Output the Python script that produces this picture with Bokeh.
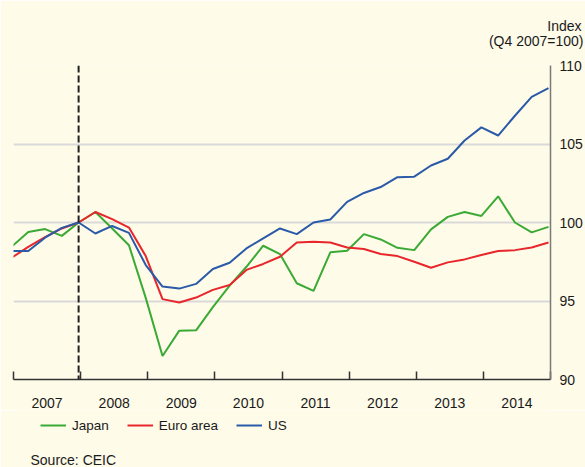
from bokeh.plotting import figure
from bokeh.layouts import column
from bokeh.models import (Range1d, LinearAxis, FixedTicker, Span, Legend,
                          LegendItem, Title, Grid, Label)
from bokeh.embed import file_html
from bokeh.resources import INLINE

# ---- data -------------------------------------------------------------
quarters = ["2006 Q4",
            "2007 Q1", "2007 Q2", "2007 Q3", "2007 Q4",
            "2008 Q1", "2008 Q2", "2008 Q3", "2008 Q4",
            "2009 Q1", "2009 Q2", "2009 Q3", "2009 Q4",
            "2010 Q1", "2010 Q2", "2010 Q3", "2010 Q4",
            "2011 Q1", "2011 Q2", "2011 Q3", "2011 Q4",
            "2012 Q1", "2012 Q2", "2012 Q3", "2012 Q4",
            "2013 Q1", "2013 Q2", "2013 Q3", "2013 Q4",
            "2014 Q1", "2014 Q2", "2014 Q3", "2014 Q4"]

japan = [98.45, 99.40, 99.58, 99.15, 100.0, 100.67, 99.62, 98.55, 95.2,
         91.5, 93.11, 93.13, 94.61, 95.98, 97.18, 98.52, 97.99,
         96.13, 95.64, 98.1, 98.2, 99.26, 98.92, 98.39, 98.24,
         99.56, 100.36, 100.67, 100.42, 101.67, 100.0, 99.37, 99.72]

euro = [97.75, 98.45, 99.07, 99.62, 100.0, 100.67, 100.21, 99.68, 97.86,
        95.12, 94.9, 95.22, 95.71, 96.02, 96.98, 97.36, 97.82,
        98.73, 98.77, 98.73, 98.41, 98.31, 97.99, 97.86, 97.5,
        97.12, 97.46, 97.65, 97.93, 98.18, 98.24, 98.41, 98.73]

us = [98.18, 98.18, 99.03, 99.66, 100.0, 99.30, 99.78, 99.34, 97.29,
      95.92, 95.79, 96.09, 97.04, 97.44, 98.35, 98.99, 99.62,
      99.26, 100.0, 100.19, 101.31, 101.88, 102.26, 102.89, 102.92,
      103.63, 104.06, 105.22, 106.06, 105.54, 106.8, 108.0, 108.56]

series_names = ["Japan", "Euro area", "US"]
years = [2007, 2008, 2009, 2010, 2011, 2012, 2013, 2014]
y_ticks = [90, 95, 100, 105, 110]
grid_ticks = [95, 100, 105]
base_quarter = "2007 Q4"

# ---- styling ----------------------------------------------------------
BG = "#fefbe9"
FONT = "Liberation Sans"
TXT = "#1a1a1a"
COLORS = ["#3aaa35", "#e8262b", "#2a5aa8"]
NB = "\u00a0"

def qpos(q):
    yr, qq = q.split(" Q")
    return int(yr) + int(qq) / 4 - 0.03

xs = [qpos(q) for q in quarters]

# ---- main chart -------------------------------------------------------
p = figure(width=585, height=410,
           x_range=Range1d(years[0], years[-1] + 1),
           y_range=Range1d(y_ticks[0], y_ticks[-1]),
           output_backend="svg", toolbar_location=None,
           x_axis_location=None, y_axis_location=None, title_location=None,
           min_border_left=13, min_border_right=31,
           min_border_top=65, min_border_bottom=30,
           background_fill_color=BG, border_fill_color=BG,
           outline_line_color=None)

p.center = [r for r in p.center if not isinstance(r, Grid)]
p.add_layout(Grid(dimension=1, ticker=FixedTicker(ticks=grid_ticks),
                  grid_line_color="#d9d9d9", grid_line_width=2))

for vals, col in zip([japan, euro, us], COLORS):
    p.line(xs, vals, line_color=col, line_width=2)

p.add_layout(Span(location=qpos(base_quarter), dimension="height",
                  line_color="#222222", line_width=2, line_dash="7 3"))

yaxis = LinearAxis(ticker=FixedTicker(ticks=y_ticks),
                   axis_line_color="#7a7a7a", axis_line_width=1.5,
                   major_tick_line_color=None, minor_tick_line_color=None,
                   major_label_standoff=3,
                   major_label_text_font=FONT,
                   major_label_text_font_size="14px",
                   major_label_text_color=TXT)
p.add_layout(yaxis, "right")

xaxis = LinearAxis(ticker=FixedTicker(ticks=[y + 0.5 for y in years],
                                      minor_ticks=years + [years[-1] + 1]),
                   major_label_overrides={y + 0.5: str(y) for y in years},
                   major_tick_line_color=None,
                   minor_tick_in=8, minor_tick_out=0,
                   minor_tick_line_color="#333333", minor_tick_line_width=1.5,
                   axis_line_color="#333333", axis_line_width=1.5,
                   major_label_standoff=12,
                   major_label_text_font=FONT,
                   major_label_text_font_size="14px",
                   major_label_text_color=TXT)
p.add_layout(xaxis, "below")

p.add_layout(Title(text=NB * 15 + "Index\n(Q4 2007=100)", align="right",
                   offset=-33, vertical_align="top", standoff=30,
                   text_line_height=0.95,
                   text_font=FONT, text_font_size="14px",
                   text_font_style="normal", text_color=TXT), "above")

# ---- legend and source strip -----------------------------------------
p2 = figure(width=585, height=57, x_range=Range1d(0, 1), y_range=Range1d(0, 1),
            output_backend="svg", toolbar_location=None,
            x_axis_location=None, y_axis_location=None, title_location=None,
            min_border=0, min_border_left=0, min_border_right=0,
            min_border_top=0, min_border_bottom=0,
            background_fill_color=BG, border_fill_color=BG,
            outline_line_color=None)
p2.center = [r for r in p2.center if not isinstance(r, Grid)]

items = []
for name, col in zip(series_names, COLORS):
    # legend-only proxy: a single undefined point, draws nothing itself
    proxy = p2.line(x=[float("nan")], y=[float("nan")],
                    line_color=col, line_width=2)
    items.append(LegendItem(label=name, renderers=[proxy], index=0))

p2.add_layout(Legend(items=items, orientation="horizontal", location=(22, 27),
                     margin=0, padding=5, spacing=18,
                     glyph_width=26, glyph_height=20, label_height=20,
                     label_standoff=6,
                     label_text_font=FONT, label_text_font_size="13.5px",
                     label_text_color=TXT,
                     background_fill_alpha=0, border_line_alpha=0))

p2.add_layout(Label(x=17, y=8, x_units="screen", y_units="screen",
                    text="Source: CEIC", text_baseline="middle",
                    text_font=FONT, text_font_size="14px", text_color=TXT))

layout = column(p, p2, spacing=0)
open("out.html", "w").write(file_html(layout, INLINE))
